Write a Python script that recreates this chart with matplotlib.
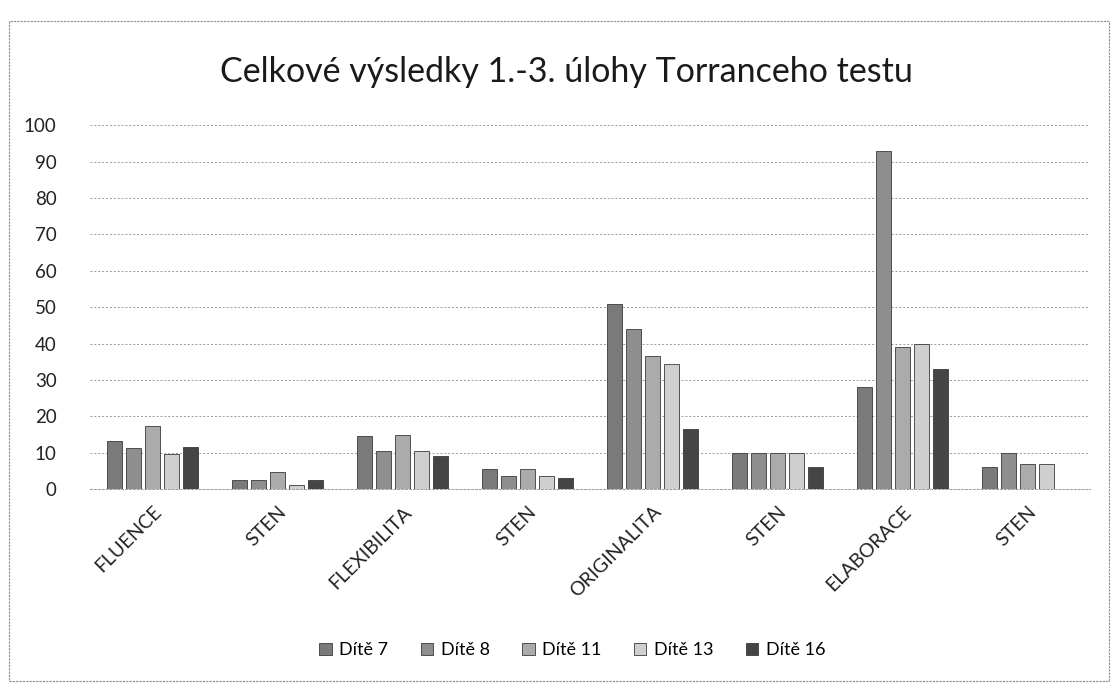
import numpy as np
import matplotlib.pyplot as plt
from matplotlib.patches import Rectangle

plt.rcParams['font.family'] = ['Lato', 'DejaVu Sans']

# kategorie na ose x
categories = ['FLUENCE', 'STEN', 'FLEXIBILITA', 'STEN',
              'ORIGINALITA', 'STEN', 'ELABORACE', 'STEN']

# hodnoty jednotlivych deti
dite7 = [13.3, 2.5, 14.5, 5.5, 51, 10, 28, 6]
dite8 = [11.4, 2.4, 10.5, 3.5, 44, 10, 93, 10]
dite11 = [17.3, 4.6, 15, 5.5, 36.5, 10, 39, 7]
dite13 = [9.6, 1.2, 10.5, 3.6, 34.5, 10, 40, 7]
dite16 = [11.6, 2.6, 9, 3, 16.5, 6, 33, 0]

series = [dite7, dite8, dite11, dite13, dite16]
labels = ['Dítě 7', 'Dítě 8', 'Dítě 11', 'Dítě 13', 'Dítě 16']
colors = ['#7a7a7a', '#8e8e8e', '#ababab', '#cfcfcf', '#454545']
y_ticks = [0, 10, 20, 30, 40, 50, 60, 70, 80, 90, 100]

fig = plt.figure(figsize=(11.11, 6.88), dpi=100)
ax = fig.add_axes([0.081, 0.289, 0.9, 0.529])

x = np.arange(len(categories))
w = 0.12
step = 0.152
for i, (vals, lab, col) in enumerate(zip(series, labels, colors)):
    off = (i - 2) * step
    ax.bar(x + off, vals, width=w, color=col, edgecolor='#3a3a3a',
           linewidth=0.6, label=lab, zorder=3)

ax.set_xlim(-0.5, len(categories) - 0.5)
ax.set_ylim(0, 100)
ax.set_yticks(y_ticks)
ax.tick_params(axis='y', length=0, pad=24, labelsize=13.5, labelcolor='#222222')
ax.set_xticks(x)
ax.set_xticklabels(categories, rotation=45, ha='right', rotation_mode='anchor',
                   fontsize=14, color='#222222')
ax.tick_params(axis='x', length=0, pad=10)

# mrizka
ax.grid(True, axis='y', color='#9a9a9a', linestyle=(0, (2, 2)), linewidth=0.7, zorder=0)
for s in ['top', 'right', 'left']:
    ax.spines[s].set_visible(False)
ax.spines['bottom'].set_color('#9a9a9a')
ax.spines['bottom'].set_linestyle((0, (2, 2)))
ax.spines['bottom'].set_linewidth(0.7)

fig.text(0.51, 0.895, 'Celkové výsledky 1.-3. úlohy Torranceho testu',
         ha='center', va='center', fontsize=24.5, color='#1a1a1a')

handles, labs = ax.get_legend_handles_labels()
fig.legend(handles, labs, loc='center', bbox_to_anchor=(0.515, 0.055), ncol=5,
           frameon=False, fontsize=13, handlelength=0.7, handleheight=0.7,
           handletextpad=0.4, columnspacing=1.8)

# ramecek grafu
fig.patches.append(Rectangle((0.008, 0.01), 0.99, 0.96, transform=fig.transFigure,
                             fill=False, edgecolor='#8a8a8a', linewidth=0.8,
                             linestyle=(0, (2, 1))))

fig.savefig('out.png', dpi=100)
